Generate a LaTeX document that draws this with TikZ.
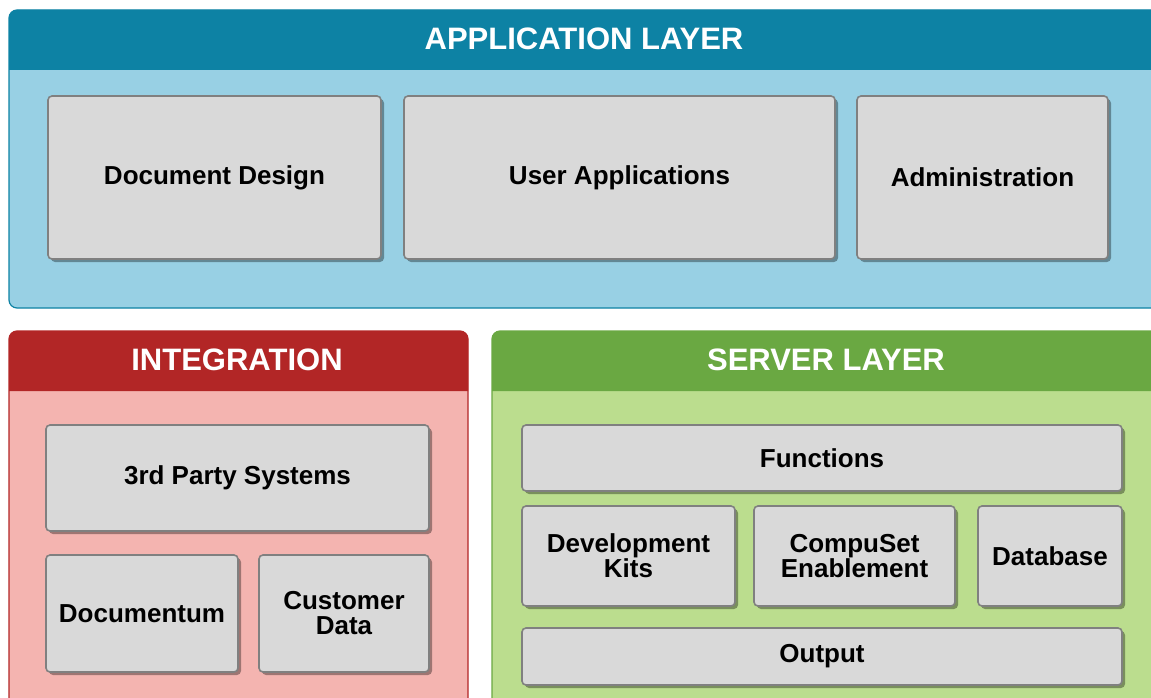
\documentclass[tikz,border=0pt]{standalone}
\usepackage{fontspec}
\setmainfont{Liberation Sans}
\usetikzlibrary{shadows}

\definecolor{appbody}{HTML}{98D0E4}
\definecolor{apphead}{HTML}{0D82A4}
\definecolor{intbody}{HTML}{F4B4B0}
\definecolor{inthead}{HTML}{B22626}
\definecolor{srvbody}{HTML}{BBDD8E}
\definecolor{srvhead}{HTML}{6AA842}

\begin{document}
\begin{tikzpicture}[x=1pt, y=-1pt,
every node/.style={inner sep=1pt},
box/.style={draw=black!50, line width=1.6pt, fill=black!15, rounded corners=4pt,
    align=center, font=\fontsize{26}{25}\selectfont\bfseries,
    drop shadow={shadow xshift=3pt, shadow yshift=-3pt, opacity=0.35, fill=black}},
layertitle/.style={text=white, font=\fontsize{31}{33}\selectfont\bfseries}
]
\useasboundingbox (0,0) rectangle (1151,698);
\clip (0,0) rectangle (1151,698);

\draw[fill=appbody, draw=apphead, line width=1.2pt, rounded corners=8pt] (9,10) rectangle (1175,308);
\fill[apphead] (9,70) [rounded corners=8pt] -- (9,10) -- (1175,10) [sharp corners] -- (1175,70) -- cycle;
\draw[fill=intbody, draw=inthead, line width=1.2pt, rounded corners=8pt] (9,331) rectangle (468,720);
\fill[inthead] (9,391) [rounded corners=8pt] -- (9,331) -- (468,331) [sharp corners] -- (468,391) -- cycle;
\draw[fill=srvbody, draw=srvhead, line width=1.2pt, rounded corners=8pt] (492,331) rectangle (1175,720);
\fill[srvhead] (492,391) [rounded corners=8pt] -- (492,331) -- (1175,331) [sharp corners] -- (1175,391) -- cycle;

\node[layertitle] (apptitle) at (584,39) {APPLICATION LAYER};
\node[layertitle] (inttitle) at (237,360) {INTEGRATION};
\node[layertitle] (srvtitle) at (826,360) {SERVER LAYER};

\foreach \n/\x/\y/\w/\h/\t in {docdesign/214.5/177.5/333/163/{Document Design},
                    userapps/619.5/177.5/431/163/{User Applications},
                    admin/982.5/177.5/251/163/{Administration},
                    thirdparty/237.5/478/383/106/{3rd Party Systems},
                    documentum/142/613.5/192/117/{Documentum},
                    custdata/344/613.5/170/117/{Customer\\Data},
                    functions/822/458/600/66/{Functions},
                    devkits/628.5/556/213/100/{Development\\Kits},
                    compuset/854.5/556/201/100/{CompuSet\\Enablement},
                    database/1050/556/144/100/{Database},
                    output/822/656.5/600/57/{Output}%
            }
    \node[box, minimum width=\w, minimum height=\h] (\n) at (\x,\y) {\t};
\end{tikzpicture}
\end{document}
